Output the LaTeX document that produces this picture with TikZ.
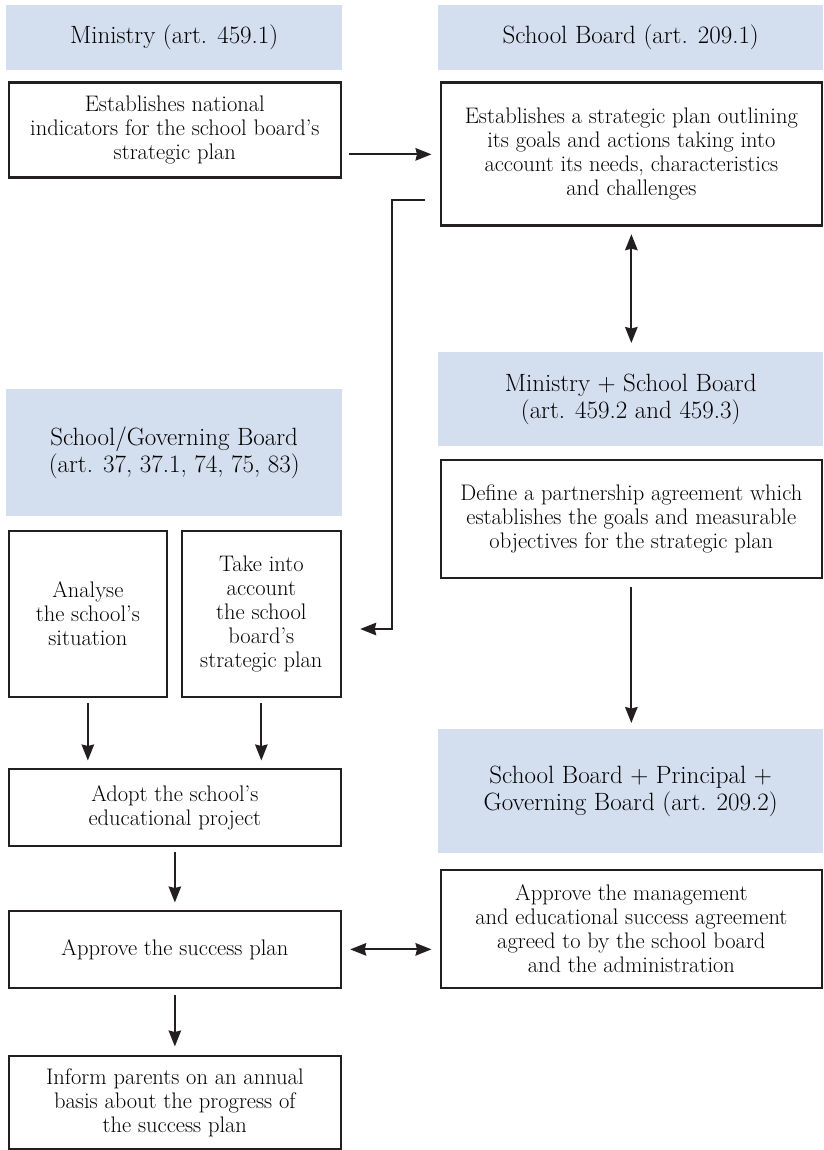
\documentclass[tikz,border=0pt]{standalone}
\usepackage{fontspec}
\usetikzlibrary{arrows.meta}
\definecolor{hblue}{RGB}{211,222,238}
\definecolor{ink}{RGB}{35,31,32}
\newcommand\bodyf{\fontsize{22.5}{24}\selectfont}
\newcommand\hdrf{\fontsize{25}{27.5}\selectfont}
\begin{document}
\begin{tikzpicture}[x=1pt,y=-1pt,
  box/.style={draw=ink, line width=2.7pt, fill=white, align=center, inner sep=0pt,
    anchor=north west, font=\bodyf, text=black},
  hdr/.style={fill=hblue, align=center, inner sep=0pt, anchor=north west,
    font=\hdrf, text=black},
  arr/.style={draw=ink, line width=2pt, -{Stealth[length=16pt,width=12.5pt,inset=1.5pt]}},
  darr/.style={draw=ink, line width=2pt, {Stealth[length=16pt,width=12.5pt,inset=1.5pt]}-{Stealth[length=16pt,width=12.5pt,inset=1.5pt]}}]
\useasboundingbox (0,0) rectangle (823,1150);
% headers
\node[hdr, minimum width=336pt, minimum height=65pt] (H1) at (6,5) {Ministry (art. 459.1)};
\node[hdr, minimum width=385pt, minimum height=65pt] (H2) at (438,5) {School Board (art. 209.1)};
\node[hdr, minimum width=385pt, minimum height=94pt] (H3) at (438,352) {Ministry + School Board\\(art. 459.2 and 459.3)};
\node[hdr, minimum width=385pt, minimum height=124pt] (H4) at (438,729) {School Board + Principal +\\Governing Board (art. 209.2)};
\node[hdr, minimum width=336pt, minimum height=127pt] (H5) at (6,389) {School/Governing Board\\(art. 37, 37.1, 74, 75, 83)};
% boxes
\node[box, minimum width=332pt, minimum height=95pt] (B1) at (7.5,81.5) {Establishes national\\indicators for the school board’s\\strategic plan};
\node[box, minimum width=381pt, minimum height=143pt] (B2) at (439.5,81.5) {Establishes a strategic plan outlining\\its goals and actions taking into\\account its needs, characteristics\\and challenges};
\node[box, minimum width=381pt, minimum height=118pt] (B3) at (439.5,458.5) {Define a partnership agreement which\\establishes the goals and measurable\\objectives for the strategic plan};
\node[box, minimum width=381pt, minimum height=118pt] (B4) at (439.5,868.5) {Approve the management\\and educational success agreement\\agreed to by the school board\\and the administration};
\node[box, minimum width=158pt, minimum height=166pt] (B5a) at (7.5,529.5) {Analyse\\the school’s\\situation};
\node[box, minimum width=159pt, minimum height=166pt] (B5b) at (180.5,529.5) {Take into\\account\\the school\\board’s\\strategic plan};
\node[box, minimum width=332pt, minimum height=77pt] (B6) at (7.5,767.5) {Adopt the school’s\\educational project};
\node[box, minimum width=332pt, minimum height=77pt] (B7) at (7.5,909.5) {Approve the success plan};
\node[box, minimum width=332pt, minimum height=93pt] (B8) at (7.5,1054.5) {Inform parents on an annual\\basis about the progress of\\the success plan};
% connectors
\draw[arr, shorten <=7pt, shorten >=8pt] (B1.east |- B2.west) -- (B2.west);
\coordinate (e1) at (425,200);
\coordinate (e2) at (392,200);
\coordinate (e3) at (392,629);
\draw[arr, shorten >=18pt, line join=miter] (e1) -- (e2) -- (e3) -- (e3 -| B5b.east);
\draw[darr, shorten <=7pt, shorten >=9pt] (B2.south) -- (B2.south |- H3.north);
\draw[arr, shorten <=8pt, shorten >=6pt] (B3.south) -- (B3.south |- H4.north);
\draw[arr, shorten <=5pt, shorten >=7pt] (B5a.south) -- (B5a.south |- B6.north);
\draw[arr, shorten <=5pt, shorten >=7pt] (B5b.south) -- (B5b.south |- B6.north);
\draw[arr, shorten <=5pt, shorten >=7pt] (B6.south) -- (B7.north);
\draw[darr, shorten <=8pt, shorten >=8pt] (B7.east) -- (B7.east -| B4.west);
\draw[arr, shorten <=6pt, shorten >=8pt] (B7.south) -- (B8.north);
\end{tikzpicture}
\end{document}
